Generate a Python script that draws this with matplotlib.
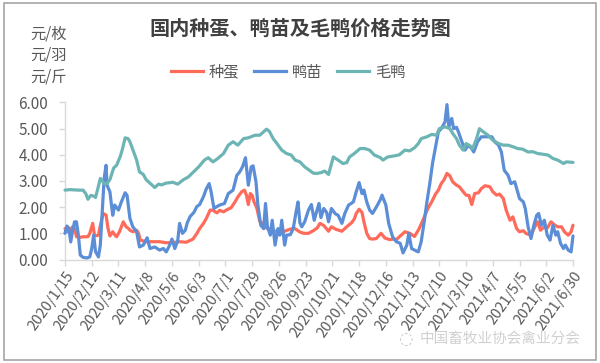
import matplotlib
matplotlib.use("Agg")
import matplotlib.pyplot as plt
from matplotlib.patches import Rectangle
from matplotlib.lines import Line2D

plt.rcParams['font.family'] = ['Noto Sans CJK SC', 'DejaVu Sans']

# ---------------- data (day offset from 2020/1/15, price) ----------------
egg_days = [0, 3, 5, 8, 10, 12, 16, 20, 24, 26, 29, 31, 35, 37, 40, 43, 45, 47, 50, 52,
            54, 57, 61, 64, 66, 68, 71, 75, 77, 79, 85, 92, 99, 106, 113, 120, 127, 134, 138, 141,
            145, 148, 152, 155, 159, 162, 166, 169, 174, 178, 181, 185, 188, 190, 192, 194, 196, 198, 201, 204,
            208, 211, 215, 220, 225, 230, 235, 240, 246, 250, 255, 260, 264, 267, 271, 276, 279, 284, 290, 295,
            300, 303, 305, 308, 311, 313, 316, 319, 322, 326, 331, 335, 340, 344, 347, 352, 356, 361, 366, 370,
            373, 376, 380, 384, 388, 391, 394, 397, 400, 403, 406, 410, 413, 417, 420, 423, 426, 429, 433, 436,
            440, 445, 448, 452, 455, 459, 462, 466, 469, 473, 476, 480, 483, 488, 492, 495, 498, 502, 505, 509,
            513, 516, 520, 523, 527, 530, 532]
egg_price = [1.18, 1.05, 1.10, 1.25, 1.20, 0.87, 0.85, 0.87, 0.87, 1.00, 1.38, 0.90, 0.93, 1.30, 1.76, 1.70, 1.20, 0.90, 1.06, 0.95,
             0.87, 1.06, 1.44, 1.25, 1.20, 1.12, 1.06, 1.12, 1.00, 0.74, 0.68, 0.68, 0.68, 0.64, 0.65, 0.68, 0.66, 0.78, 0.99, 1.18,
             1.38, 1.57, 1.89, 1.88, 1.78, 1.88, 1.82, 1.89, 1.98, 2.20, 2.39, 2.59, 2.65, 2.46, 2.10, 2.52, 2.45, 2.20, 1.95, 1.45,
             1.35, 1.20, 1.15, 1.08, 1.10, 1.08, 1.15, 1.20, 1.05, 1.00, 1.00, 1.10, 1.20, 1.38, 1.30, 1.08, 1.25, 1.15, 1.08, 1.25,
             1.40, 1.55, 1.76, 1.92, 1.80, 1.45, 1.00, 0.80, 0.78, 0.80, 1.00, 0.82, 0.76, 0.78, 0.76, 0.93, 1.06, 1.00, 0.88, 1.12,
             1.35, 1.60, 1.95, 2.20, 2.50, 2.65, 2.90, 3.05, 3.29, 3.20, 2.97, 2.84, 2.78, 2.59, 2.46, 2.45, 2.10, 2.52, 2.55, 2.71,
             2.82, 2.78, 2.59, 2.46, 2.50, 2.33, 1.89, 1.50, 1.63, 1.18, 1.06, 1.10, 0.99, 0.93, 1.25, 1.44, 1.12, 1.25, 1.20, 1.44,
             1.31, 1.25, 1.25, 1.06, 0.93, 1.06, 1.31]

chick_days = [0, 2, 4, 6, 8, 10, 12, 14, 16, 19, 23, 26, 28, 30, 32, 35, 37, 39, 41, 43,
              44, 47, 50, 52, 56, 59, 63, 65, 68, 71, 75, 78, 82, 86, 89, 94, 99, 103, 106, 109,
              112, 115, 118, 120, 123, 126, 128, 131, 135, 138, 141, 145, 148, 151, 153, 156, 158, 162, 167, 171,
              176, 180, 183, 186, 189, 192, 195, 197, 200, 202, 205, 208, 210, 212, 215, 217, 220, 223, 225, 227,
              230, 232, 236, 239, 242, 244, 246, 248, 251, 255, 258, 261, 264, 266, 268, 271, 274, 276, 279, 283,
              286, 290, 293, 297, 302, 305, 308, 311, 313, 316, 319, 322, 326, 330, 332, 336, 339, 343, 347, 351,
              354, 358, 360, 363, 366, 370, 373, 376, 379, 382, 385, 388, 391, 394, 398, 400, 402, 405, 407, 410,
              412, 415, 419, 422, 426, 428, 432, 436, 441, 447, 450, 454, 457, 460, 464, 467, 471, 474, 476, 480,
              482, 485, 488, 491, 494, 496, 499, 502, 505, 508, 511, 514, 516, 519, 522, 524, 527, 530, 532]
chick_price = [1.00, 1.28, 1.20, 0.67, 1.10, 1.44, 1.44, 0.93, 0.17, 0.08, 0.06, 0.10, 0.42, 0.93, 0.30, 0.10, 0.55, 1.82, 3.10, 3.60,
               2.84, 2.59, 1.69, 2.08, 1.89, 2.20, 2.55, 2.45, 1.57, 1.25, 1.06, 0.48, 0.55, 0.83, 0.42, 0.48, 0.36, 0.42, 0.29, 0.50,
               0.78, 0.42, 0.70, 1.38, 1.00, 1.12, 1.40, 1.64, 1.80, 2.02, 2.10, 2.40, 2.70, 2.90, 2.59, 1.95, 2.00, 2.08, 2.14, 2.52,
               2.65, 3.22, 3.35, 3.55, 3.89, 2.84, 3.54, 3.58, 2.97, 2.08, 1.31, 1.18, 2.14, 1.25, 0.93, 1.50, 0.55, 1.18, 0.93, 1.50,
               0.55, 0.93, 0.95, 1.18, 1.82, 2.20, 1.40, 1.25, 1.44, 1.89, 2.10, 1.50, 1.90, 2.14, 1.60, 1.95, 1.80, 1.44, 1.95, 1.75,
               1.69, 1.38, 1.76, 2.08, 2.20, 2.59, 2.94, 2.52, 2.65, 2.20, 1.89, 1.76, 2.00, 2.27, 2.46, 2.08, 1.38, 0.87, 0.68, 0.62,
               0.25, 0.55, 1.00, 0.42, 0.36, 0.29, 0.68, 1.40, 2.20, 2.90, 3.70, 4.30, 4.88, 5.00, 5.26, 5.92, 5.07, 5.39, 5.00, 5.05,
               4.88, 4.56, 4.18, 4.37, 4.24, 4.11, 4.50, 4.69, 4.69, 4.69, 4.50, 4.37, 4.11, 3.41, 3.22, 2.90, 2.97, 2.59, 2.33, 2.20,
               1.95, 1.25, 0.80, 1.31, 1.69, 1.76, 1.31, 1.50, 0.93, 0.74, 1.31, 0.93, 1.06, 0.61, 0.42, 0.55, 0.36, 0.29, 0.90]

duck_days = [0, 5, 10, 15, 19, 22, 24, 27, 30, 32, 35, 37, 39, 41, 44, 47, 51, 54, 58, 60,
             63, 66, 68, 71, 75, 78, 82, 85, 91, 94, 98, 101, 106, 113, 118, 124, 129, 133, 140, 146,
             150, 155, 160, 166, 171, 176, 181, 187, 192, 199, 204, 208, 211, 214, 218, 222, 227, 232, 237, 241,
             246, 251, 256, 260, 264, 268, 272, 276, 281, 286, 291, 295, 298, 303, 309, 314, 319, 324, 330, 333,
             338, 345, 350, 356, 361, 366, 370, 373, 379, 384, 389, 392, 398, 403, 406, 410, 413, 417, 420, 424,
             427, 431, 434, 438, 443, 448, 454, 459, 464, 469, 474, 479, 485, 490, 495, 501, 506, 511, 516, 522,
             525, 529, 532]
duck_price = [2.65, 2.67, 2.66, 2.65, 2.65, 2.50, 2.30, 2.45, 2.42, 2.37, 2.80, 3.10, 3.00, 2.90, 2.90, 3.05, 3.50, 3.60, 3.95, 4.20,
              4.65, 4.62, 4.50, 4.20, 3.80, 3.35, 3.25, 3.05, 2.85, 2.75, 2.88, 2.85, 2.92, 2.95, 2.88, 3.05, 3.15, 3.29, 3.54, 3.80,
              3.89, 3.73, 3.86, 4.05, 4.37, 4.50, 4.37, 4.62, 4.65, 4.75, 4.75, 4.88, 4.98, 4.90, 4.62, 4.43, 4.18, 4.05, 3.99, 3.80,
              3.73, 3.54, 3.41, 3.30, 3.29, 3.32, 3.38, 3.25, 3.92, 3.80, 3.67, 3.70, 3.92, 4.05, 4.24, 4.24, 4.18, 3.99, 3.90, 3.80,
              3.92, 3.96, 4.00, 4.18, 4.15, 4.27, 4.43, 4.62, 4.69, 4.78, 4.75, 5.00, 5.07, 5.00, 4.82, 4.62, 4.37, 4.18, 4.43, 4.35,
              4.24, 4.62, 5.00, 4.88, 4.75, 4.56, 4.43, 4.37, 4.37, 4.31, 4.24, 4.22, 4.11, 4.12, 4.05, 4.02, 3.99, 3.86, 3.80, 3.67,
              3.73, 3.72, 3.71]

series_names = ['种蛋', '鸭苗', '毛鸭']
tick_days = [0, 28, 56, 84, 112, 140, 168, 196, 224, 252, 280, 308, 336, 364, 392, 420, 448, 476, 504, 532]
tick_labels = ['2020/1/15', '2020/2/12', '2020/3/11', '2020/4/8', '2020/5/6', '2020/6/3', '2020/7/1',
               '2020/7/29', '2020/8/26', '2020/9/23', '2020/10/21', '2020/11/18', '2020/12/16', '2021/1/13',
               '2021/2/10', '2021/3/10', '2021/4/7', '2021/5/5', '2021/6/2', '2021/6/30']
y_ticks = [0, 1, 2, 3, 4, 5, 6]

# ---------------- styling ----------------
colors = ['#FF6B5B', '#5B8ED6', '#6CB5B4']
txt = '#595959'
axis_c = '#D9D9D9'

W, H = 600, 363
fig = plt.figure(figsize=(W / 100, H / 100), dpi=100)
fig.patch.set_facecolor('white')

x0, x1 = 65, 573
y_top, y_bot = 102.5, 259.5
ax = fig.add_axes([x0 / W, 1 - y_bot / H, (x1 - x0) / W, (y_bot - y_top) / H])

lw = 2.3
for d, v, c in zip([egg_days, chick_days, duck_days], [egg_price, chick_price, duck_price], colors):
    ax.plot(d, v, color=c, lw=lw, solid_joinstyle='round', solid_capstyle='round', clip_on=False, zorder=3)

# draw order like reference: teal on top of blue in overlap region is fine
ax.set_xlim(0, 532)
ax.set_ylim(0, 6)
ax.set_yticks(y_ticks)
ax.set_yticklabels([f'{t:.2f}' for t in y_ticks], fontsize=11, color=txt)
ax.set_xticks(tick_days)
ax.set_xticklabels(tick_labels, rotation=55, ha='right', va='top', rotation_mode='anchor',
                   fontsize=10.5, color=txt)
for s in ['top', 'right']:
    ax.spines[s].set_visible(False)
for s in ['left', 'bottom']:
    ax.spines[s].set_color(axis_c)
    ax.spines[s].set_linewidth(1.0)
ax.tick_params(axis='both', direction='out', length=4, width=1, color=axis_c)
ax.tick_params(axis='y', pad=8)
ax.tick_params(axis='x', pad=3)

# title
fig.text(300 / W, 1 - 28 / H, '国内种蛋、鸭苗及毛鸭价格走势图', ha='center', va='center',
         fontsize=14.5, fontweight='bold', color='#404040')

# unit labels
for i, u in enumerate(['元/枚', '元/羽', '元/斤']):
    fig.text(30 / W, 1 - (34 + 21.5 * i) / H, u, ha='left', va='center', fontsize=11, color=txt)

# legend
handles = [Line2D([0], [0], color=c, lw=lw) for c in colors]
leg = fig.legend(handles, series_names, loc='center', bbox_to_anchor=(288 / W, 1 - 72 / H), ncol=3,
                 frameon=False, fontsize=11, handlelength=2.1, handletextpad=0.35, columnspacing=1.0)
for t in leg.get_texts():
    t.set_color(txt)

# watermark
fig.text(405 / W, 1 - 339 / H, '◌', ha='center', va='center', fontsize=12, color='#BBBBBB', alpha=0.8,
         family=['DejaVu Sans'])
fig.text(420 / W, 1 - 339 / H, '中国畜牧业协会禽业分会', ha='left', va='center', fontsize=10.5,
         color='#C8C8C8', alpha=0.85)

# outer border
fig.add_artist(Rectangle((4 / W, 1 - 360 / H), 592 / W, 357 / H, transform=fig.transFigure,
                         fill=False, edgecolor='#A6A6A6', lw=1.2))

fig.savefig('out.png', dpi=100, facecolor='white')
